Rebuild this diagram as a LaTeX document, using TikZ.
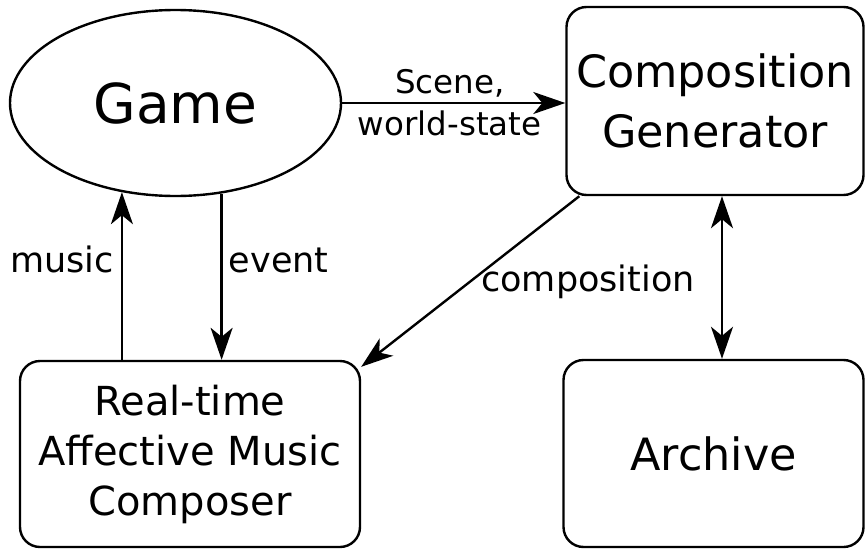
\documentclass[tikz,border=0pt]{standalone}
\usepackage{fontspec}
\setmainfont{DejaVu Sans}
\usetikzlibrary{shapes.geometric,arrows.meta,calc}
\begin{document}
\begin{tikzpicture}[x=1pt,y=-1pt,
  box/.style={draw,line width=2.4pt,rounded corners=20pt,align=center,inner sep=0pt},
  tip/.style={Stealth[length=32pt,width=22pt,inset=9pt]},
  arr/.style={line width=2.4pt,-{Stealth[length=32pt,width=22pt,inset=9pt]}},
  darr/.style={line width=2.4pt,{Stealth[length=32pt,width=22pt,inset=9pt]}-{Stealth[length=32pt,width=22pt,inset=9pt]}},
  lbl/.style={font=\fontsize{35}{40}\selectfont,inner sep=0pt}]
\useasboundingbox (0,0) rectangle (865,549);
\node[draw,line width=2.4pt,ellipse,minimum width=331pt,minimum height=186pt,inner sep=0pt,
  font=\fontsize{55}{60}\selectfont] (game) at (175.5,103) {Game};
\node[box,minimum width=297pt,minimum height=188pt,font=\fontsize{44.5}{60}\selectfont] (gen) at (715,101) {Composition\\Generator};
\node[box,minimum width=340pt,minimum height=186pt,font=\fontsize{40}{50}\selectfont] (rt) at (190,454) {Real-time\\Affective Music\\Composer};
\node[box,minimum width=300pt,minimum height=187pt,font=\fontsize{44.5}{60}\selectfont] (arch) at (713.5,453.5) {Archive};
\draw[arr] (game.east) -- (game.east -| gen.west)
  node[midway,xshift=-4pt,align=center,font=\fontsize{32.5}{42}\selectfont,inner sep=0pt] (sw) {Scene,\\world-state};
\draw[arr] (rt.north -| game.239) -- (game.239) node[pos=0.6,left=7pt,lbl] (ml) {music};
\draw[arr] (game.297) -- (game.297 |- rt.north) node[pos=0.4,right=6pt,lbl] (el) {event};
\draw[arr] ([xshift=14pt]gen.south west) -- ([yshift=-7pt]rt.north east)
  node[pos=0.46,lbl,anchor=center,xshift=109pt,yshift=-7pt] (cl) {composition};
\draw[darr] ([xshift=7pt]gen.south) -- ([xshift=7pt]gen.south |- arch.north);
\end{tikzpicture}
\end{document}
